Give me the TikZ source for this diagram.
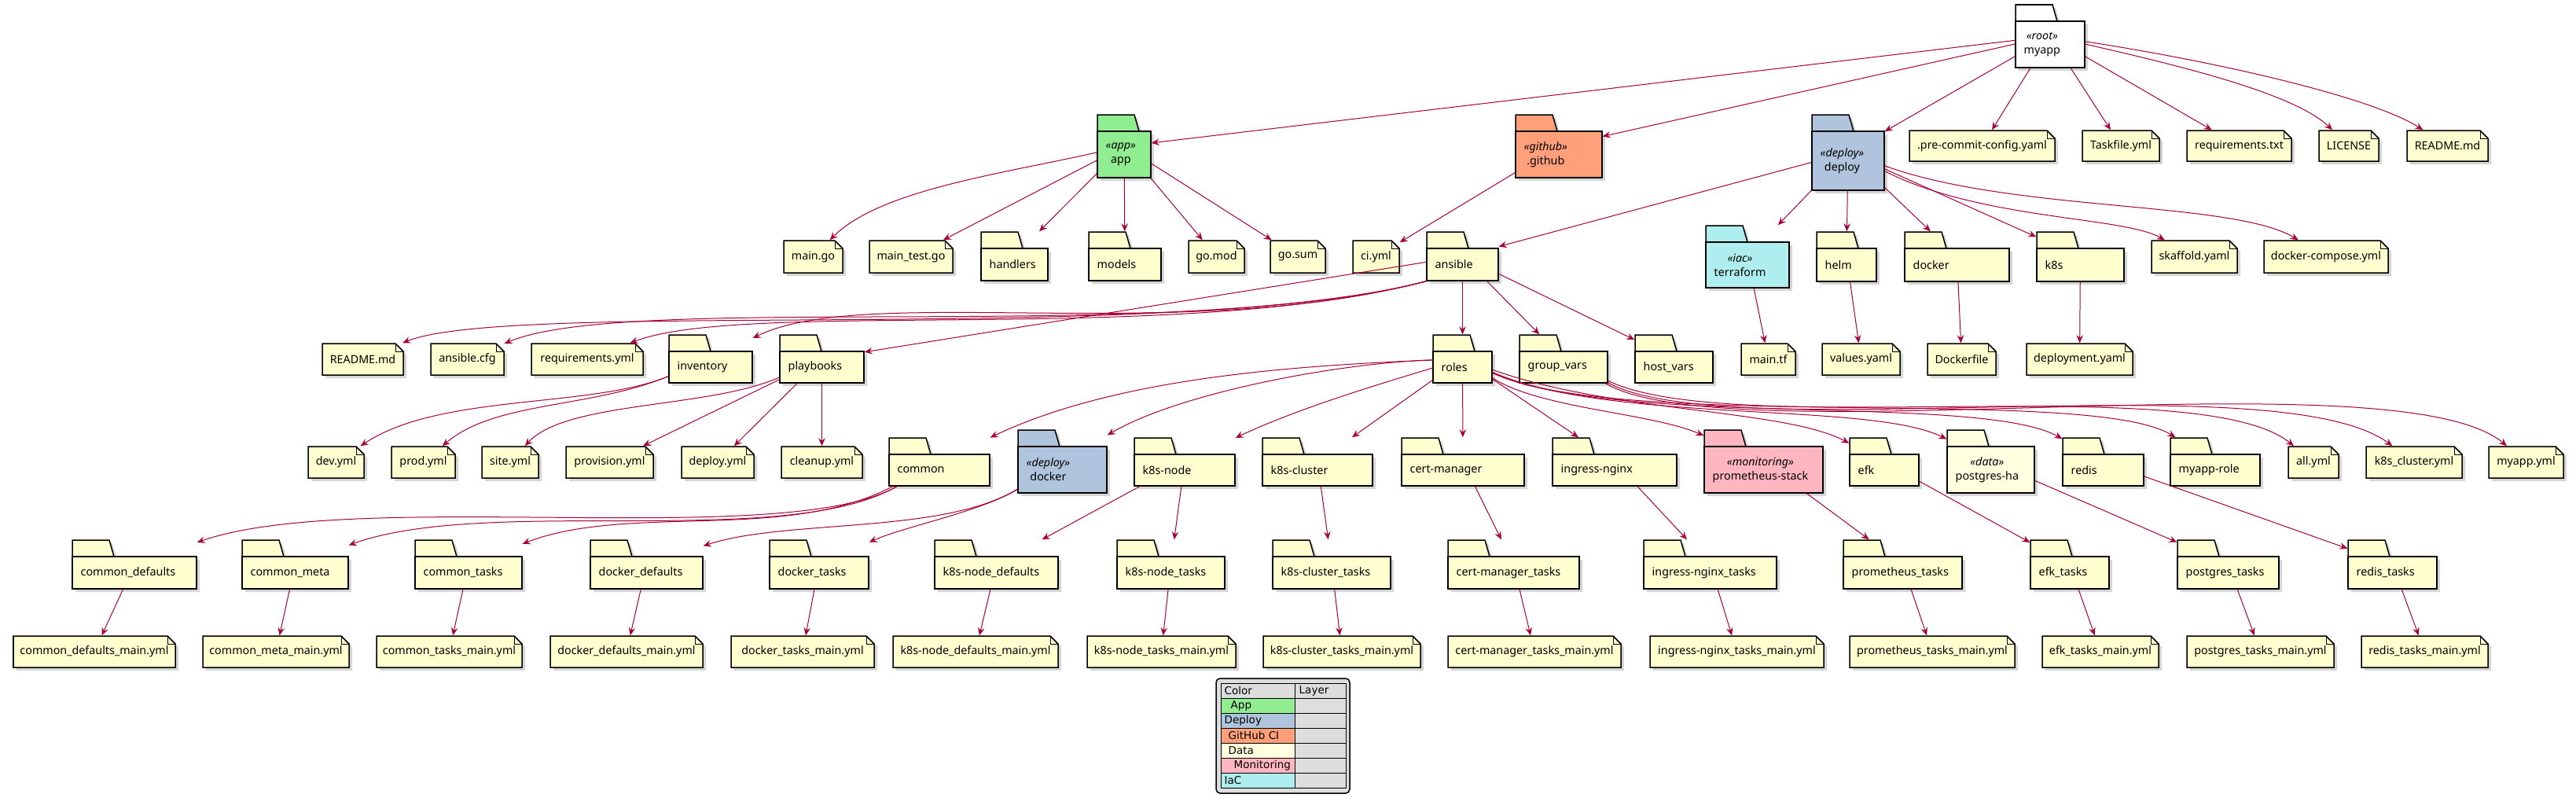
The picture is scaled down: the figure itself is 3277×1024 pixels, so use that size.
\documentclass[tikz,border=0pt]{standalone}
\usepackage{fontspec}
\setmainfont{Noto Sans}
\newfontfamily\legendfont{DejaVu Sans}
\usetikzlibrary{arrows.meta,fit}

\definecolor{notefill}{HTML}{FEFECE}
\definecolor{edgered}{HTML}{A80036}
\definecolor{appgreen}{HTML}{90EE90}
\definecolor{deployblue}{HTML}{B0C4DE}
\definecolor{githubsalmon}{HTML}{FFA07A}
\definecolor{datayellow}{HTML}{FFFFE0}
\definecolor{monpink}{HTML}{FFB6C1}
\definecolor{iaccyan}{HTML}{AFEEEE}
\definecolor{legendgrey}{HTML}{DDDDDD}

\newcommand{\lblfont}{\fontsize{4.07pt}{5.1pt}\selectfont}
\newcommand{\stereo}[1]{{\itshape «#1»}}

% folder: name, x1, y1 (tab top), x2, y2, fill, label
\newcommand{\dirbox}[7]{%
  \fill[shade box] (#2+4,#3+4) -- (#2+51,#3+4) -- (#2+57,#3+25) -- (#4+4,#3+25) -- (#4+4,#5+4) -- (#2+4,#5+4) -- cycle;
  \filldraw[box line, fill=#6] (#2,#3) -- (#2+47,#3) -- (#2+53,#3+21) -- (#2,#3+21) -- cycle;
  \filldraw[box line, fill=#6] (#2,#3+21) rectangle (#4,#5);
  \node[fit={(#2,#3) (#4,#5)}, inner sep=0pt] (#1) {};
  \node[dir label] at (#2+10,{(#3+21+#5)/2}) {#7};
}
% file note: name, x1, y1, x2, y2, label
\newcommand{\filenote}[6]{%
  \fill[shade box] (#2+4,#3+4) -- (#4-6,#3+4) -- (#4+4,#3+14) -- (#4+4,#5+4) -- (#2+4,#5+4) -- cycle;
  \filldraw[box line, fill=notefill] (#2,#3) -- (#4-10,#3) -- (#4,#3+10) -- (#4,#5) -- (#2,#5) -- cycle;
  \draw[fold line] (#4-10,#3) -- (#4-10,#3+10) -- (#4,#3+10);
  \node[fit={(#2,#3) (#4,#5)}, inner sep=0pt] (#1) {};
  \node[note label] at ({(#2+#4)/2},{(#3+#5)/2}) {#6};
}

\begin{document}
\begin{tikzpicture}[x=0.01cm, y=-0.01cm,
  box line/.style={draw=black, line width=0.015cm},
  fold line/.style={draw=black, line width=0.01cm},
  shade box/.style={fill=black!16},
  dir label/.style={anchor=west, inner sep=0pt, align=center, font=\lblfont},
  note label/.style={inner sep=0pt, font=\lblfont},
  legend label/.style={anchor=west, inner sep=0pt, font=\legendfont\fontsize{3.84pt}{4.6pt}\selectfont},
  link/.style={draw=edgered, line width=0.01cm, -{Stealth[length=0.1cm,width=0.085cm,inset=0.035cm]}}]
\useasboundingbox (0,0) rectangle (3277,1024);

% top level
\dirbox{myapp}{2564}{6}{2652}{86}{white}{\stereo{root}\\myapp}
\dirbox{app}{1396}{146}{1464}{226}{appgreen}{\stereo{app}\\app}
\dirbox{github}{1928}{146}{2038}{226}{githubsalmon}{\stereo{github}\\.github}
\dirbox{deploy}{2305}{146}{2397}{242}{deployblue}{\stereo{deploy}\\deploy}
\filenote{precommit}{2429}{166}{2614}{205}{.pre-commit-config.yaml}
\filenote{taskfile}{2649}{166}{2747}{205}{Taskfile.yml}
\filenote{reqtxt}{2782}{166}{2915}{205}{requirements.txt}
\filenote{license}{2950}{166}{3026}{205}{LICENSE}
\filenote{rootreadme}{3062}{166}{3165}{205}{README.md}

% second level
\filenote{maingo}{997}{306}{1072}{347}{main.go}
\filenote{maintest}{1106}{306}{1212}{347}{main\_test.go}
\dirbox{handlers}{1248}{295}{1333}{357}{notefill}{handlers}
\dirbox{models}{1385}{295}{1477}{357}{notefill}{models}
\filenote{gomod}{1512}{306}{1583}{347}{go.mod}
\filenote{gosum}{1616}{306}{1686}{347}{go.sum}
\filenote{ciyml}{1721}{306}{1780}{347}{ci.yml}
\dirbox{ansible}{1815}{295}{1906}{357}{notefill}{ansible}
\dirbox{terraform}{2170}{287}{2276}{366}{iaccyan}{\stereo{iac}\\terraform}
\dirbox{helm}{2311}{295}{2387}{358}{notefill}{helm}
\dirbox{dockerdir}{2423}{295}{2556}{358}{notefill}{docker}
\dirbox{k8s}{2591}{295}{2702}{358}{notefill}{k8s}
\filenote{skaffold}{2737}{306}{2846}{347}{skaffold.yaml}
\filenote{compose}{2880}{306}{3038}{347}{docker-compose.yml}

% ansible level
\filenote{ansreadme}{410}{437}{513}{477}{README.md}
\filenote{anscfg}{548}{437}{641}{477}{ansible.cfg}
\filenote{reqyml}{676}{437}{818}{477}{requirements.yml}
\dirbox{inventory}{851}{426}{957}{487}{notefill}{inventory}
\dirbox{playbooks}{992}{426}{1099}{487}{notefill}{playbooks}
\dirbox{roles}{1823}{426}{1898}{487}{notefill}{roles}
\dirbox{groupvars}{1933}{426}{2045}{487}{notefill}{group\_vars}
\dirbox{hostvars}{2080}{426}{2179}{487}{notefill}{host\_vars}
\filenote{maintf}{2215}{437}{2284}{477}{main.tf}
\filenote{values}{2318}{437}{2417}{477}{values.yaml}
\filenote{dockerfile}{2452}{437}{2539}{477}{Dockerfile}
\filenote{deployment}{2578}{437}{2713}{477}{deployment.yaml}

% roles level
\filenote{devyml}{392}{568}{463}{608}{dev.yml}
\filenote{prodyml}{498}{568}{579}{608}{prod.yml}
\filenote{siteyml}{613}{568}{685}{608}{site.yml}
\filenote{provyml}{720}{568}{831}{608}{provision.yml}
\filenote{deployyml}{867}{568}{959}{608}{deploy.yml}
\filenote{cleanyml}{994}{568}{1097}{608}{cleanup.yml}
\dirbox{common}{1131}{557}{1259}{618}{notefill}{common}
\dirbox{dockerrole}{1295}{547}{1408}{627}{deployblue}{\stereo{deploy}\\docker}
\dirbox{k8snode}{1443}{557}{1571}{618}{notefill}{k8s-node}
\dirbox{k8scluster}{1606}{557}{1746}{618}{notefill}{k8s-cluster}
\dirbox{certmgr}{1783}{557}{1939}{618}{notefill}{cert-manager}
\dirbox{ingress}{1975}{557}{2133}{618}{notefill}{ingress-nginx}
\dirbox{prometheus}{2168}{547}{2319}{627}{monpink}{\stereo{monitoring}\\prometheus-stack}
\dirbox{efk}{2353}{557}{2441}{618}{notefill}{efk}
\dirbox{postgres}{2477}{547}{2588}{627}{datayellow}{\stereo{data}\\postgres-ha}
\dirbox{redis}{2624}{557}{2727}{618}{notefill}{redis}
\dirbox{myapprole}{2761}{557}{2875}{618}{notefill}{myapp-role}
\filenote{allyml}{2911}{568}{2975}{608}{all.yml}
\filenote{k8sclyml}{3010}{568}{3132}{608}{k8s\_cluster.yml}
\filenote{myappyml}{3166}{568}{3261}{608}{myapp.yml}

% role sub folders
\dirbox{cdef}{92}{687}{250}{749}{notefill}{common\_defaults}
\dirbox{cmeta}{308}{687}{443}{749}{notefill}{common\_meta}
\dirbox{ctasks}{528}{687}{664}{749}{notefill}{common\_tasks}
\dirbox{ddef}{751}{687}{894}{749}{notefill}{docker\_defaults}
\dirbox{dtasks}{979}{687}{1105}{749}{notefill}{docker\_tasks}
\dirbox{kndef}{1189}{687}{1346}{749}{notefill}{k8s-node\_defaults}
\dirbox{kntasks}{1421}{687}{1558}{749}{notefill}{k8s-node\_tasks}
\dirbox{kctasks}{1619}{687}{1769}{749}{notefill}{k8s-cluster\_tasks}
\dirbox{cmtasks}{1842}{687}{2009}{749}{notefill}{cert-manager\_tasks}
\dirbox{ingtasks}{2091}{687}{2260}{749}{notefill}{ingress-nginx\_tasks}
\dirbox{promtasks}{2345}{687}{2496}{749}{notefill}{prometheus\_tasks}
\dirbox{efktasks}{2583}{687}{2683}{749}{notefill}{efk\_tasks}
\dirbox{pgtasks}{2770}{687}{2899}{749}{notefill}{postgres\_tasks}
\dirbox{redistasks}{2987}{687}{3100}{749}{notefill}{redis\_tasks}

% main.yml files
\filenote{cdef-main}{17}{809}{223}{849}{common\_defaults\_main.yml}
\filenote{cmeta-main}{258}{809}{444}{849}{common\_meta\_main.yml}
\filenote{ctasks-main}{479}{809}{664}{849}{common\_tasks\_main.yml}
\filenote{ddef-main}{700}{809}{894}{849}{docker\_defaults\_main.yml}
\filenote{dtasks-main}{930}{809}{1112}{849}{docker\_tasks\_main.yml}
\filenote{kndef-main}{1136}{809}{1346}{849}{k8s-node\_defaults\_main.yml}
\filenote{kntasks-main}{1383}{809}{1572}{849}{k8s-node\_tasks\_main.yml}
\filenote{kctasks-main}{1607}{809}{1807}{849}{k8s-cluster\_tasks\_main.yml}
\filenote{cmtasks-main}{1842}{809}{2062}{849}{cert-manager\_tasks\_main.yml}
\filenote{ingtasks-main}{2099}{809}{2320}{849}{ingress-nginx\_tasks\_main.yml}
\filenote{promtasks-main}{2353}{809}{2563}{849}{prometheus\_tasks\_main.yml}
\filenote{efktasks-main}{2598}{809}{2746}{849}{efk\_tasks\_main.yml}
\filenote{pgtasks-main}{2782}{809}{2969}{849}{postgres\_tasks\_main.yml}
\filenote{redistasks-main}{3004}{809}{3165}{849}{redis\_tasks\_main.yml}

% links from myapp
\foreach \d in {app,github,deploy,precommit,taskfile,reqtxt}
  \draw[link] (myapp) -- (\d);
\draw[link] (myapp) .. controls (2780,85) and (2920,120) .. (license);
\draw[link] (myapp) .. controls (2830,80) and (3020,125) .. (rootreadme);

% app, .github
\draw[link] (app) .. controls (1276,221) and (1120,241) .. (maingo);
\foreach \d in {maintest,handlers,models,gomod,gosum}
  \draw[link] (app) -- (\d);
\draw[link] (github) -- (ciyml);

% deploy
\foreach \d in {ansible,terraform,helm,dockerdir,k8s}
  \draw[link] (deploy) -- (\d);
\draw[link] (deploy) .. controls (2520,280) and (2700,275) .. (skaffold);
\draw[link] (deploy) .. controls (2560,270) and (2840,255) .. (compose);
\draw[link] (terraform) -- (maintf);
\draw[link] (helm) -- (values);
\draw[link] (dockerdir) -- (dockerfile);
\draw[link] (k8s) -- (deployment);

% ansible
\draw[link] (ansible.south west) .. controls (1500,440) and (650,380) .. (ansreadme);
\draw[link] (ansible.south west) .. controls (1500,440) and (800,370) .. (anscfg);
\draw[link] (ansible.south west) .. controls (1500,440) and (950,380) .. (reqyml);
\draw[link] (ansible.south west) .. controls (1500,440) and (1100,360) .. (inventory);
\foreach \d in {playbooks,roles,groupvars,hostvars}
  \draw[link] (ansible) -- (\d);

% inventory, playbooks
\draw[link] (inventory) .. controls (750,520) and (560,500) .. (devyml);
\draw[link] (inventory) .. controls (750,520) and (630,510) .. (prodyml);
\draw[link] (playbooks) .. controls (900,520) and (720,510) .. (siteyml);
\foreach \d in {provyml,deployyml,cleanyml}
  \draw[link] (playbooks) -- (\d);

% roles
\draw[link] (roles) .. controls (1650,465) and (1420,480) .. (common);
\draw[link] (roles) .. controls (1700,462) and (1500,500) .. (dockerrole);
\draw[link] (roles) .. controls (1750,490) and (1650,520) .. (k8snode);
\foreach \d in {k8scluster,certmgr,ingress}
  \draw[link] (roles) -- (\d);
\draw[link] (roles) .. controls (1960,520) and (2100,525) .. (prometheus);
\draw[link] (roles) .. controls (2050,525) and (2270,520) .. (efk);
\draw[link] (roles) .. controls (2050,540) and (2380,510) .. (postgres);
\draw[link] (roles) .. controls (2050,545) and (2520,500) .. (redis);
\draw[link] (roles) .. controls (2060,550) and (2660,490) .. (myapprole);

% group_vars
\draw[link] (groupvars) .. controls (2200,560) and (2800,470) .. (allyml);
\draw[link] (groupvars) .. controls (2200,570) and (2900,460) .. (k8sclyml);
\draw[link] (groupvars) .. controls (2200,580) and (3050,450) .. (myappyml);

% role contents
\draw[link] (common) .. controls (1000,700) and (450,620) .. (cdef);
\draw[link] (common) .. controls (1000,700) and (620,630) .. (cmeta);
\draw[link] (common) .. controls (1000,690) and (800,640) .. (ctasks);
\draw[link] (dockerrole) .. controls (1200,680) and (1000,660) .. (ddef);
\draw[link] (dockerrole) .. controls (1250,650) and (1150,670) .. (dtasks);
\draw[link] (k8snode) -- (kndef);
\draw[link] (k8snode) -- (kntasks);
\draw[link] (k8scluster) -- (kctasks);
\draw[link] (certmgr) -- (cmtasks);
\draw[link] (ingress) -- (ingtasks);
\draw[link] (prometheus) -- (promtasks);
\draw[link] (efk) -- (efktasks);
\draw[link] (postgres) -- (pgtasks);
\draw[link] (redis) -- (redistasks);
\foreach \src in {cdef,cmeta,ctasks,ddef,dtasks,kndef,kntasks,kctasks,cmtasks,ingtasks,promtasks,efktasks,pgtasks,redistasks}
  \draw[link] (\src) -- (\src-main);

% legend
\filldraw[box line, fill=legendgrey, rounded corners=0.05cm] (1547,863) rectangle (1717,1009);
\foreach \row/\col/\txt/\dx in {1/appgreen/App/12, 2/deployblue/Deploy/4, 3/githubsalmon/GitHub CI/9, 4/datayellow/Data/9, 5/monpink/Monitoring/16, 6/iaccyan/IaC/4} {
  \fill[\col] (1553,869+19*\row) rectangle (1647,888+19*\row);
  \node[legend label] (leg\row) at (1553+\dx,878.5+19*\row) {\txt};
}
\node[legend label] (legcolor) at (1557,878.5) {Color};
\node[legend label] (leglayer) at (1652,878.5) {Layer};
\draw[line width=0.01cm] (1553,869) rectangle (1712,1002);
\foreach \k in {1,...,6}
  \draw[line width=0.01cm] (1553,869+19*\k) -- (1712,869+19*\k);
\draw[line width=0.01cm] (1647,869) -- (1647,1002);
\end{tikzpicture}
\end{document}
